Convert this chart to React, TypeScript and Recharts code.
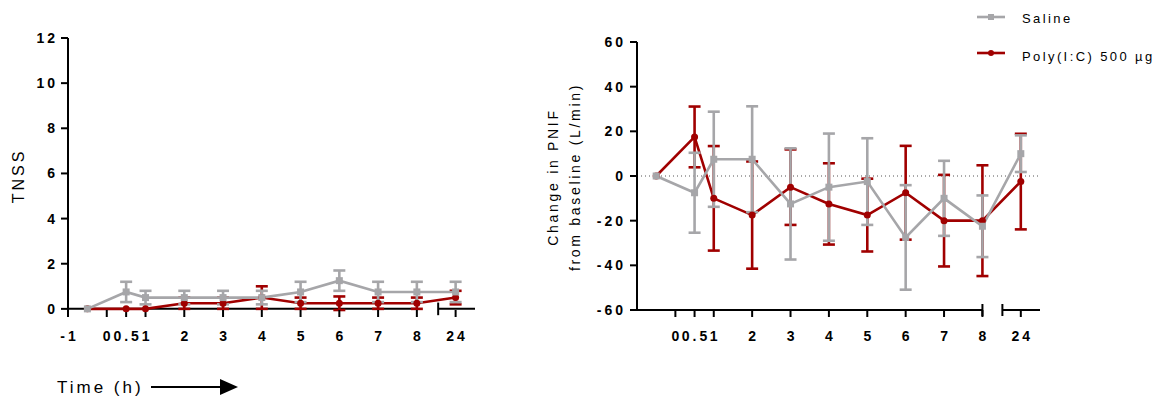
import { ErrorBar, Legend, Line, LineChart, ReferenceLine, XAxis, YAxis } from "recharts";

// sampling times (h); -0.5 is the pre-dose baseline
const hours = [-0.5, 0.5, 1, 2, 3, 4, 5, 6, 7, 8, 24];

// total nasal symptom score, mean and SEM
const tnssSaline = [0, 0.75, 0.5, 0.5, 0.5, 0.5, 0.75, 1.25, 0.75, 0.75, 0.75];
const tnssSalineSem = [0, 0.45, 0.3, 0.3, 0.3, 0.3, 0.45, 0.45, 0.45, 0.45, 0.45];
const tnssPoly = [0, 0, 0, 0.25, 0.25, 0.5, 0.25, 0.25, 0.25, 0.25, 0.5];
const tnssPolySem = [0, 0, 0, 0.25, 0.25, 0.5, 0.25, 0.3, 0.25, 0.25, 0.3];

// change in peak nasal inspiratory flow (L/min), mean and SEM
const pnifSaline = [0, -7.5, 7.5, 7.5, -12.5, -5, -2.5, -27.5, -10, -22.5, 10];
const pnifSalineSem = [0, 17.9, 21.3, 23.7, 24.9, 24, 19.4, 23.4, 16.8, 13.8, 8.2];
const pnifPoly = [0, 17.5, -10, -17.5, -5, -12.5, -17.5, -7.5, -20, -20, -2.5];
const pnifPolySem = [0, 13.6, 23.4, 24, 16.9, 18.2, 16.3, 21, 20.5, 24.8, 21.4];

const tnssTicks = [0, 2, 4, 6, 8, 10, 12];
const pnifTicks = [-60, -40, -20, 0, 20, 40, 60];
const timeTicksTnss = [-1, 0, 0.5, 1, 2, 3, 4, 5, 6, 7, 8, 24];
const timeTicksPnif = [0, 0.5, 1, 2, 3, 4, 5, 6, 7, 8, 24];

const SALINE = "#a6a6a9";
const POLY = "#a00000";
const FONT = "'Liberation Sans', Arial, sans-serif";

// broken time axis: everything after 8 h is squeezed into one unit
const BREAK_AT = 8;
const toAxis = (h: number) => (h > BREAK_AT ? BREAK_AT + 1 : h);
const fromAxis = (p: number) => (p > BREAK_AT ? 24 : p);
const X_DOMAIN: [number, number] = [-1, 9.5];

const tnssData = hours.map((h, i) => ({
  pos: toAxis(h),
  saline: tnssSaline[i],
  salineErr: tnssSalineSem[i],
  poly: tnssPoly[i],
  polyErr: tnssPolySem[i],
}));

const pnifData = hours.map((h, i) => ({
  pos: toAxis(h),
  saline: pnifSaline[i],
  salineErr: pnifSalineSem[i],
  poly: pnifPoly[i],
  polyErr: pnifPolySem[i],
}));

const tickText = {
  fontFamily: FONT,
  fontSize: 14,
  fontWeight: 700,
  letterSpacing: 3,
  fill: "#000",
};

const legendText = { fontFamily: FONT, fontSize: 13, letterSpacing: 2.4, fill: "#000" };

const XTick = ({ x, y, payload }: any) => (
  <text x={x} y={y} dx={1.5} dy="0.71em" textAnchor="middle" style={tickText}>
    {String(fromAxis(payload.value))}
  </text>
);

const YTick = ({ x, y, payload }: any) => (
  <text x={x} y={y} dy="0.36em" textAnchor="end" style={tickText}>
    {payload.value}
  </text>
);

const SquareDot = ({ cx, cy, index }: any) => (
  <rect key={`sq-${index}`} x={cx - 3.5} y={cy - 3.5} width={7} height={7} fill={SALINE} />
);

const RoundDot = ({ cx, cy, index }: any) => (
  <circle key={`ci-${index}`} cx={cx} cy={cy} r={3.5} fill={POLY} />
);

const axisStroke = { stroke: "#000", strokeWidth: 2 };

function Series() {
  return [
    <Line
      key="poly"
      dataKey="poly"
      type="linear"
      stroke={POLY}
      strokeWidth={2.6}
      dot={RoundDot}
      activeDot={false}
      isAnimationActive={false}
    >
      <ErrorBar dataKey="polyErr" width={6} strokeWidth={2.6} stroke={POLY} isAnimationActive={false} />
    </Line>,
    <Line
      key="saline"
      dataKey="saline"
      type="linear"
      stroke={SALINE}
      strokeWidth={2.6}
      dot={SquareDot}
      activeDot={false}
      isAnimationActive={false}
    >
      <ErrorBar dataKey="salineErr" width={6} strokeWidth={2.6} stroke={SALINE} isAnimationActive={false} />
    </Line>,
  ];
}

const LegendBox = () => (
  <svg width={178} height={72}>
    <line x1={0} y1={17} x2={28} y2={17} stroke={SALINE} strokeWidth={2.6} />
    <rect x={11} y={14} width={6} height={6} fill={SALINE} />
    <text x={45} y={23} style={legendText}>
      Saline
    </text>
    <line x1={0} y1={53} x2={28} y2={53} stroke={POLY} strokeWidth={2.6} />
    <circle cx={14} cy={53} r={3} fill={POLY} />
    <text x={45} y={61} style={legendText}>
      Poly(I:C) 500 µg
    </text>
  </svg>
);

export default function App() {
  return (
    <div
      style={{
        position: "absolute",
        left: 0,
        top: 0,
        width: 1158,
        height: 398,
        background: "#fff",
        fontFamily: FONT,
      }}
    >
      <div style={{ position: "absolute", left: 0, top: 0 }}>
        <LineChart width={560} height={398} data={tnssData} margin={{ top: 38, right: 85, bottom: 48, left: 0 }}>
          <XAxis
            type="number"
            dataKey="pos"
            domain={X_DOMAIN}
            ticks={timeTicksTnss.map(toAxis)}
            interval={0}
            height={40}
            axisLine={false}
            tickLine={axisStroke}
            tickSize={7}
            tickMargin={14}
            tick={XTick}
            label={{
              content: () => (
                <g>
                  <text
                    x={57}
                    y={393}
                    style={{ fontFamily: FONT, fontSize: 17, letterSpacing: 3, fill: "#000" }}
                  >
                    Time (h)
                  </text>
                  <line x1={151} y1={387} x2={222} y2={387} stroke="#000" strokeWidth={2} />
                  <polygon points="220,379 238,387 220,395" fill="#000" />
                </g>
              ),
            }}
          />
          <YAxis
            type="number"
            domain={[0, 12]}
            ticks={tnssTicks}
            interval={0}
            width={68}
            axisLine={axisStroke}
            tickLine={axisStroke}
            tickSize={7}
            tickMargin={3}
            tick={YTick}
            label={{
              content: () => (
                <text
                  x={18}
                  y={176}
                  transform="rotate(-90 18 176)"
                  textAnchor="middle"
                  dominantBaseline="central"
                  style={{ fontFamily: FONT, fontSize: 16, letterSpacing: 3, fill: "#000" }}
                >
                  TNSS
                </text>
              ),
            }}
          />
          <ReferenceLine
            segment={[{ x: -1, y: 0 }, { x: BREAK_AT, y: 0 }]}
            stroke="#000"
            strokeWidth={2}
            ifOverflow="visible"
          />
          <ReferenceLine
            segment={[{ x: 8.55, y: 0 }, { x: 9.5, y: 0 }]}
            stroke="#000"
            strokeWidth={2}
            ifOverflow="visible"
          />
          <ReferenceLine
            segment={[{ x: 8.55, y: -0.28 }, { x: 8.55, y: 0.28 }]}
            stroke="#000"
            strokeWidth={2}
            ifOverflow="visible"
          />
          {Series()}
        </LineChart>
      </div>

      <div style={{ position: "absolute", left: 540, top: 0 }}>
        <LineChart width={618} height={398} data={pnifData} margin={{ top: 42, right: 118, bottom: 48, left: 0 }}>
          <XAxis
            type="number"
            dataKey="pos"
            domain={X_DOMAIN}
            ticks={timeTicksPnif.map(toAxis)}
            interval={0}
            height={40}
            axisLine={false}
            tickLine={axisStroke}
            tickSize={7}
            tickMargin={14}
            tick={XTick}
          />
          <YAxis
            type="number"
            domain={[-60, 60]}
            ticks={pnifTicks}
            interval={0}
            width={97}
            axisLine={axisStroke}
            tickLine={axisStroke}
            tickSize={7}
            tickMargin={4}
            tick={YTick}
            label={{
              content: () => (
                <g style={{ fontFamily: FONT, fontSize: 14, letterSpacing: 2.7, fill: "#000" }}>
                  <text
                    x={13}
                    y={177}
                    transform="rotate(-90 13 177)"
                    textAnchor="middle"
                    dominantBaseline="central"
                  >
                    Change in PNIF
                  </text>
                  <text
                    x={35}
                    y={177}
                    transform="rotate(-90 35 177)"
                    textAnchor="middle"
                    dominantBaseline="central"
                  >
                    from baseline (L/min)
                  </text>
                </g>
              ),
            }}
          />
          <ReferenceLine y={0} stroke="#555" strokeWidth={1} strokeDasharray="1 3" />
          <ReferenceLine
            segment={[{ x: -1, y: -60 }, { x: BREAK_AT, y: -60 }]}
            stroke="#000"
            strokeWidth={2}
            ifOverflow="visible"
          />
          <ReferenceLine
            segment={[{ x: 8.52, y: -60 }, { x: 9.5, y: -60 }]}
            stroke="#000"
            strokeWidth={2}
            ifOverflow="visible"
          />
          <ReferenceLine
            segment={[{ x: BREAK_AT, y: -62.7 }, { x: BREAK_AT, y: -57.3 }]}
            stroke="#000"
            strokeWidth={2}
            ifOverflow="visible"
          />
          <ReferenceLine
            segment={[{ x: 8.52, y: -62.7 }, { x: 8.52, y: -57.3 }]}
            stroke="#000"
            strokeWidth={2}
            ifOverflow="visible"
          />
          {Series()}
          <Legend
            layout="horizontal"
            align="center"
            verticalAlign="middle"
            content={LegendBox}
            wrapperStyle={{ left: 437, top: 0, width: 178, height: 72 }}
          />
        </LineChart>
      </div>
    </div>
  );
}
